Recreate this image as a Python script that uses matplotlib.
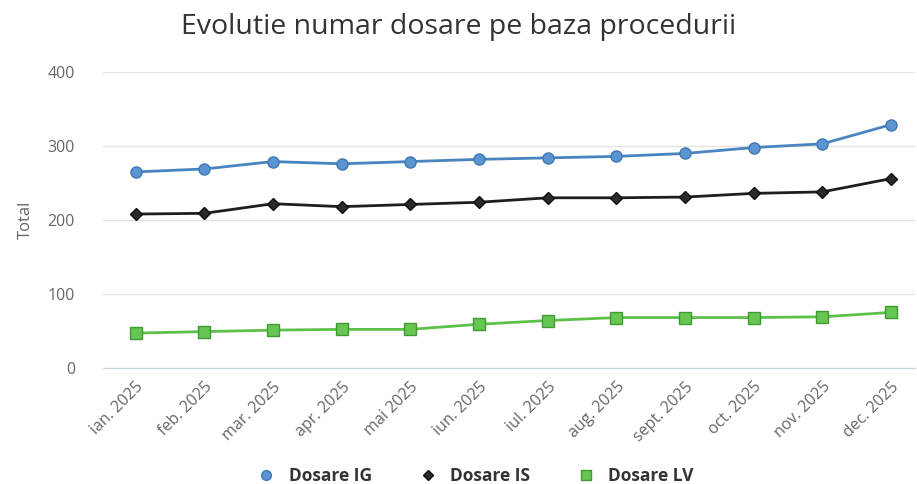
import matplotlib.pyplot as plt
from matplotlib.lines import Line2D

months = ["ian. 2025", "feb. 2025", "mar. 2025", "apr. 2025", "mai 2025", "iun. 2025",
          "iul. 2025", "aug. 2025", "sept. 2025", "oct. 2025", "nov. 2025", "dec. 2025"]
dosare_ig = [265, 269, 279, 276, 279, 282, 284, 286, 290, 298, 303, 329]
dosare_is = [208, 209, 222, 218, 221, 224, 230, 230, 231, 236, 238, 256]
dosare_lv = [47, 49, 51, 52, 52, 59, 64, 68, 68, 68, 69, 75]

plt.rcParams['font.family'] = ['Open Sans', 'DejaVu Sans']

fig = plt.figure(figsize=(9.17, 4.84), dpi=100)
ax = fig.add_axes([0.112, 0.240, 0.886, 0.611])

x = range(len(months))
ax.plot(x, dosare_ig, color="#4a84c0", lw=2, marker="o", ms=8,
        mfc="#5b95d0", mec="#3f78b5", zorder=4)
ax.plot(x, dosare_is, color="#1e1e1e", lw=2, marker="D", ms=6,
        mfc="#2a2a2a", mec="#111111", zorder=4)
ax.plot(x, dosare_lv, color="#5cc04a", lw=2, marker="s", ms=8,
        mfc="#66c553", mec="#3f9a32", zorder=4)

ax.set_ylim(0, 400)
ax.set_xlim(-0.48, 11.35)
ax.set_yticks([0, 100, 200, 300, 400])
ax.set_xticks(list(x))
ax.set_xticklabels(months, rotation=45, ha="right", rotation_mode="anchor")
ax.tick_params(axis="both", length=0, labelsize=11.5, labelcolor="#666666")
ax.tick_params(axis="y", pad=20)
ax.tick_params(axis="x", pad=8)
ax.grid(axis="y", color="#e3e3e3", lw=1)
ax.set_axisbelow(True)
for s in ["top", "right", "left"]:
    ax.spines[s].set_visible(False)
ax.spines["bottom"].set_color("#c8d4e2")
ax.set_ylabel("Total", fontsize=12, color="#666666", labelpad=10)

fig.text(0.5, 0.945, "Evolutie numar dosare pe baza procedurii", ha="center",
         va="center", fontsize=20.5, color="#333333")

handles = [
    Line2D([], [], ls="none", marker="o", ms=7, mfc="#5b95d0", mec="#3f78b5"),
    Line2D([], [], ls="none", marker="D", ms=5, mfc="#2a2a2a", mec="#111111"),
    Line2D([], [], ls="none", marker="s", ms=7, mfc="#66c553", mec="#3f9a32"),
]
leg = fig.legend(handles, ["Dosare IG", "Dosare IS", "Dosare LV"], loc="center",
                 bbox_to_anchor=(0.514, 0.017), ncol=3, frameon=False,
                 prop={"size": 12.5, "weight": "bold"}, columnspacing=2.2,
                 handletextpad=0.3)
for t in leg.get_texts():
    t.set_color("#333333")

fig.savefig("out.png", dpi=100)
